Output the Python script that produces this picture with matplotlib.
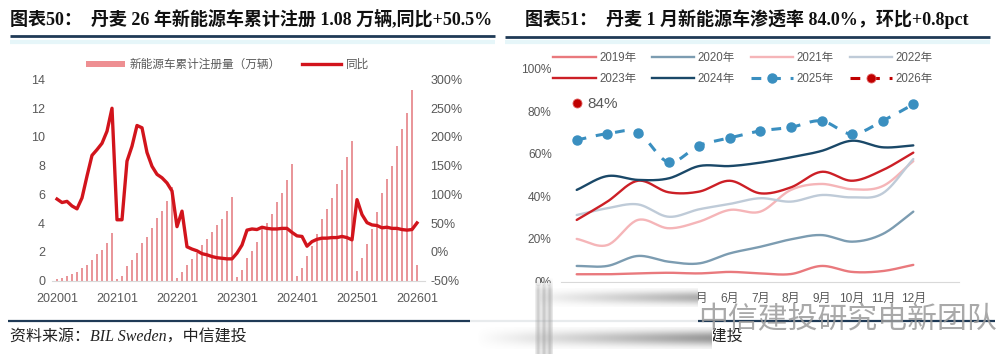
import numpy as np
import matplotlib
matplotlib.use('Agg')
import matplotlib.pyplot as plt
from matplotlib.lines import Line2D
from matplotlib.patches import Patch, Rectangle

# ---------------- data ----------------
years_left = [2020, 2021, 2022, 2023, 2024, 2025, 2026]
month_codes = [f'{y}{m:02d}' for y in years_left for m in range(1, 13)][:73]

cum_2020 = [0.1, 0.2, 0.35, 0.5, 0.6, 0.85, 1.1, 1.45, 1.85, 2.15, 2.6, 3.3]
cum_2021 = [0.1, 0.35, 1.0, 1.45, 1.95, 2.6, 3.05, 3.7, 4.35, 4.85, 5.55, 6.5]
cum_2022 = [0.2, 0.6, 1.1, 1.5, 1.95, 2.5, 2.9, 3.4, 3.9, 4.3, 4.85, 5.8]
cum_2023 = [0.25, 0.75, 1.6, 2.05, 2.7, 3.6, 4.0, 4.65, 5.45, 6.1, 7.0, 8.1]
cum_2024 = [0.35, 0.9, 1.73, 2.4, 3.25, 4.3, 5.0, 5.75, 6.75, 7.7, 8.6, 9.7]
cum_2025 = [0.68, 1.55, 2.55, 3.6, 4.75, 6.1, 7.05, 8.0, 9.4, 10.55, 11.7, 13.25]
cum_2026 = [1.08]
cum_reg = cum_2020 + cum_2021 + cum_2022 + cum_2023 + cum_2024 + cum_2025 + cum_2026

yoy = [92, 86, 88, 80, 75, 94, 132, 168, 178, 189, 210, 250,
       56, 56, 158, 184, 220, 216, 173, 149, 135, 129, 120, 106,
       44, 71, 9, 5, 2, -3, -5, -8, -10, -11, -12, -12,
       -2, 12, 38, 40, 39, 43, 41, 40, 40, 41, 41, 34,
       28, 27, 10, 18, 22, 24, 24, 25, 25, 27, 25, 21,
       91, 65, 51, 47, 46, 42, 43, 41, 41, 39, 38, 39,
       50.5]

months = list(range(1, 13))
month_labels = [f'{m}月' for m in months]
pen_2019 = [3.4, 3.4, 3.8, 4.1, 3.8, 4.5, 3.8, 3.5, 7.3, 4.5, 4.9, 7.8]
pen_2020 = [7.3, 7.3, 12.0, 9.3, 8.5, 13.2, 16.3, 19.8, 21.8, 18.7, 22.3, 32.8]
pen_2021 = [20.0, 17.1, 28.9, 25.0, 28.1, 33.6, 32.8, 43.0, 45.8, 43.3, 44.8, 56.5]
pen_2022 = [31.2, 34.4, 36.2, 30.4, 33.9, 36.4, 39.1, 37.5, 40.6, 39.5, 41.4, 57.5]
pen_2023 = [28.9, 37.5, 47.3, 41.9, 42.2, 47.3, 41.4, 44.2, 51.5, 47.3, 52.3, 60.5]
pen_2024 = [43.0, 49.5, 47.7, 48.4, 54.2, 54.2, 55.8, 58.3, 61.3, 66.1, 63.0, 63.9]
pen_2025 = [66.4, 69.4, 69.9, 56.1, 63.8, 67.4, 70.7, 72.4, 75.4, 69.2, 75.4, 83.2]
pen_2026 = [84.0]

# ---------------- figure ----------------
W, H = 1001, 354
fig = plt.figure(figsize=(W / 100, H / 100), dpi=100)
SANS = ['Liberation Sans', 'Noto Sans CJK SC']
SERIF = ['Liberation Serif', 'Noto Sans CJK SC']
plt.rcParams['font.family'] = SANS
GRAY = '#595959'


def fr(x0, y0, x1, y1):
    return [x0 / W, 1 - y1 / H, (x1 - x0) / W, (y1 - y0) / H]


def smooth(xs, ys, n=24):
    P = np.column_stack([np.asarray(xs, float), np.asarray(ys, float)])
    if len(P) < 3:
        return P[:, 0], P[:, 1]
    P = np.vstack([2 * P[0] - P[1], P, 2 * P[-1] - P[-2]])
    t = np.linspace(0, 1, n, endpoint=False)[:, None]
    out = []
    for i in range(1, len(P) - 2):
        p0, p1, p2, p3 = P[i - 1], P[i], P[i + 1], P[i + 2]
        out.append(0.5 * (2 * p1 + (-p0 + p2) * t + (2 * p0 - 5 * p1 + 4 * p2 - p3) * t ** 2
                          + (-p0 + 3 * p1 - 3 * p2 + p3) * t ** 3))
    out.append(P[-2][None, :])
    out = np.vstack(out)
    return out[:, 0], out[:, 1]


# ---------------- left chart ----------------
ax = fig.add_axes(fr(52, 79.5, 425, 280.7))
x_idx = np.arange(len(cum_reg))
bar_c = '#E9969A'
ax.bar(x_idx, cum_reg, width=0.3, color=bar_c, zorder=2)
ax.set_ylim(0, 14)
ax.set_yticks(range(0, 15, 2))
ax.set_xlim(-1, 73.6)
ax.set_xticks(x_idx[::12])
ax.set_xticklabels(month_codes[::12])
for s in ['top', 'right', 'left']:
    ax.spines[s].set_visible(False)
ax.spines['bottom'].set_color('#D9D9D9')
ax.tick_params(axis='both', length=0, colors=GRAY, labelsize=9)
ax.tick_params(axis='x', pad=9)
ax.tick_params(axis='y', pad=5)

ax2 = ax.twinx()
line_c = '#D2141C'
ax2.plot(x_idx, yoy, color=line_c, lw=2.4, zorder=3, solid_joinstyle='round')
ax2.set_ylim(-50, 300)
ax2.set_yticks(range(-50, 301, 50))
ax2.set_yticklabels([f'{v}%' for v in range(-50, 301, 50)])
for s in ['top', 'right', 'left', 'bottom']:
    ax2.spines[s].set_visible(False)
ax2.tick_params(axis='y', length=0, colors=GRAY, labelsize=9, pad=4)

h1 = Patch(facecolor='#EE8F92', edgecolor='none')
h2 = Line2D([0], [0], color=line_c, lw=2.4)
fig.legend([h1, h2], ['新能源车累计注册量（万辆）', '同比'], loc='center left',
           bbox_to_anchor=(86 / W, 1 - 65 / H), ncol=2, frameon=False,
           fontsize=8.4, handlelength=3.3, handleheight=0.45, handletextpad=0.4,
           columnspacing=1.9, borderpad=0, borderaxespad=0, labelcolor=GRAY)

# ---------------- right chart ----------------
bx = fig.add_axes(fr(561.4, 68.5, 959.2, 281.5))
styles = [
    ('2019年', pen_2019, dict(color='#E9797D', lw=1.7)),
    ('2020年', pen_2020, dict(color='#7C9CB1', lw=1.7)),
    ('2021年', pen_2021, dict(color='#F5B5B8', lw=1.7)),
    ('2022年', pen_2022, dict(color='#BFCBD8', lw=1.7)),
    ('2023年', pen_2023, dict(color='#CC1F26', lw=1.7)),
    ('2024年', pen_2024, dict(color='#1A4868', lw=1.7)),
]
handles, labels = [], []
for lab, vals, st in styles:
    sx, sy = smooth(months, vals)
    bx.plot(sx, sy, solid_capstyle='round', **st)
    handles.append(Line2D([0], [0], **st))
    labels.append(lab)

c25 = '#3A8FC0'
sx, sy = smooth(months, pen_2025)
bx.plot(sx, sy, color=c25, lw=2.2, ls=(0, (3.2, 3.2)))
bx.plot(months, pen_2025, ls='none', marker='o', ms=6.5, color=c25, mec=c25)
handles.append(Line2D([0], [0], color=c25, lw=2.2, ls=(0, (3.2, 3.2)), marker='o', ms=6.5))
labels.append('2025年')

c26 = '#C00000'
bx.plot(months[:1], pen_2026, ls='--', marker='o', ms=6.5, color=c26, mec='#E06060', mew=0.6)
handles.append(Line2D([0], [0], color=c26, lw=2.2, ls=(0, (3.2, 3.2)), marker='o', ms=6.5,
                      mec='#E06060', mew=0.6))
labels.append('2026年')
bx.annotate(f'{pen_2026[0]:.0f}%', (months[0], pen_2026[0]), xytext=(8, -1),
            textcoords='offset points', va='center', ha='left', fontsize=11, color=GRAY)

bx.set_xlim(0.5, 13.5)
bx.set_ylim(0, 100)
bx.set_xticks(months)
bx.set_xticklabels(month_labels)
bx.set_yticks(range(0, 101, 20))
bx.set_yticklabels([f'{v}%' for v in range(0, 101, 20)])
for s in ['top', 'right', 'left']:
    bx.spines[s].set_visible(False)
bx.spines['bottom'].set_color('#D9D9D9')
bx.tick_params(axis='both', length=0, colors=GRAY, labelsize=8.6)
bx.tick_params(axis='x', pad=8)
bx.tick_params(axis='y', pad=7)

# row-major order for a 4-column legend (matplotlib fills columns first)
order = [0, 4, 1, 5, 2, 6, 3, 7]
fig.legend([handles[i] for i in order], [labels[i] for i in order], loc='upper left',
           bbox_to_anchor=(553 / W, 1 - 52.5 / H),
           ncol=4, frameon=False, fontsize=8.3, handlelength=3.7, handletextpad=0.3,
           columnspacing=1.35, labelspacing=0.7, borderpad=0, borderaxespad=0,
           labelcolor=GRAY)

# ---------------- decorations (pixel overlay) ----------------
ov = fig.add_axes([0, 0, 1, 1], zorder=20)
ov.patch.set_alpha(0)
ov.axis('off')

NAVY = '#1F3A56'
ov.text(10, 19, '图表50：  丹麦 26 年新能源车累计注册 1.08 万辆,同比+50.5%', family=SERIF,
        weight='bold', fontsize=13, va='center', ha='left', color='#111111')
ov.text(525, 19, '图表51：  丹麦 1 月新能源车渗透率 84.0%，环比+0.8pct', family=SERIF,
        weight='bold', fontsize=13, va='center', ha='left', color='#111111')
ov.plot([10, 495], [36, 36], color=NAVY, lw=2.0, solid_capstyle='butt')
ov.plot([505, 990], [37, 37], color=NAVY, lw=2.0, solid_capstyle='butt')
ov.plot([10, 495], [42, 42], color='#E6F6F9', lw=3, solid_capstyle='butt')
ov.plot([505, 990], [42, 42], color='#E6F6F9', lw=3, solid_capstyle='butt')

ov.plot([8, 995], [321, 321], color=NAVY, lw=1.6, solid_capstyle='butt', zorder=1)
src = '资料来源：BIL Sweden，中信建投'
ov.text(10, 338, src, family=SERIF, style='italic', fontsize=11.5, va='center', ha='left',
        color='#222222', zorder=2)
ov.text(506, 338, src, family=SERIF, style='italic', fontsize=11.5, va='center', ha='left',
        color='#222222', zorder=2)

# screenshot blur artefact over the lower part of the right panel
ov.add_patch(Rectangle((470, 283), 228, 71, facecolor='white', edgecolor='none', alpha=0.9, zorder=5))
ov.add_patch(Rectangle((530, 287), 168, 20, facecolor='white', edgecolor='none', alpha=1, zorder=5))
ov.add_patch(Rectangle((470, 326), 243, 24, facecolor='white', edgecolor='none', alpha=1, zorder=5))


def band(x0, x1, y0, y1, a0, a1, gray, sigma=0.45):
    nx, ny = 200, 40
    a = np.linspace(a0, a1, nx)[None, :]
    yy = np.linspace(-1, 1, ny)[:, None]
    A = a * np.exp(-(yy ** 2) / sigma)
    img = np.zeros((ny, nx, 4))
    img[..., :3] = gray
    img[..., 3] = A
    ov.imshow(img, extent=(x0, x1, y1, y0), aspect='auto', interpolation='bilinear', zorder=6)


band(540, 698, 288, 307, 0.08, 0.7, 0.55)
band(476, 712, 327, 349, 0.0, 0.8, 0.5)
# vertical stripes
nx, ny = 30, 60
col = np.array([0.15, 0.55, 0.2, 0.6, 0.25, 0.6, 0.2])
col = np.interp(np.linspace(0, 6, nx), np.arange(7), col)
yy = np.linspace(0, 1, ny)[:, None]
A = col[None, :] * np.clip(yy * 6, 0, 1)
img = np.zeros((ny, nx, 4))
img[..., :3] = 0.62
img[..., 3] = A
ov.imshow(img, extent=(535, 553, 354, 277), aspect='auto', interpolation='bilinear', zorder=7)

ov.text(698, 320, '中信建投研究电新团队', family=['Noto Sans CJK SC'], fontsize=21.5,
        color='#9a9a9a', alpha=0.85, va='center', ha='left', zorder=8)

ov.set_xlim(0, W)
ov.set_ylim(H, 0)

fig.savefig('out.png', dpi=100)
